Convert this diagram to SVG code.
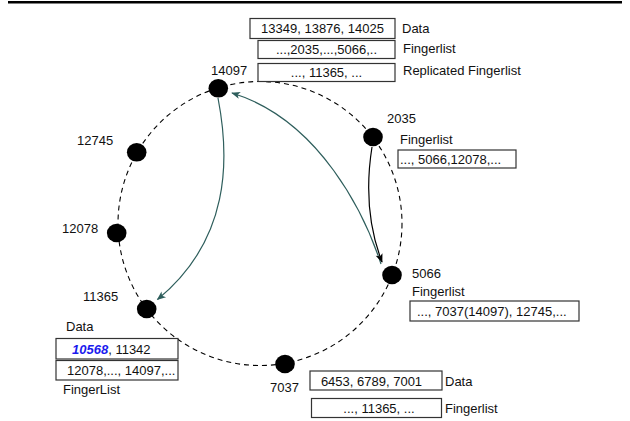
<svg xmlns="http://www.w3.org/2000/svg" width="630" height="421" viewBox="0 0 630 421">
  <style>
    text { font-family: "Liberation Sans", Arial, sans-serif; font-size: 13px; fill: #111; }
    .mid { text-anchor: middle; }
    .box { fill: #fff; stroke: #333; stroke-width: 1.2; }
    .node { fill: #000; }
    .ring { fill: none; stroke: #000; stroke-width: 1.1; stroke-dasharray: 5 4; }
    .teal { fill: none; stroke: #2e5e5c; stroke-width: 1.2; }
    .dark { fill: none; stroke: #000; stroke-width: 1.2; }
    .hit { fill: #1a1aee; font-weight: bold; font-style: italic; }
  </style>
  <defs>
    <marker id="arrTeal" viewBox="0 0 10 10" refX="9" refY="5" markerWidth="10" markerHeight="9" markerUnits="userSpaceOnUse" orient="auto">
      <path d="M0,1 L10,5 L0,9 L2.5,5 Z" fill="#2e5e5c"/>
    </marker>
    <marker id="arrDark" viewBox="0 0 10 10" refX="9" refY="5" markerWidth="10" markerHeight="9" markerUnits="userSpaceOnUse" orient="auto">
      <path d="M0,1 L10,5 L0,9 L2.5,5 Z" fill="#000"/>
    </marker>
  </defs>

  <rect x="8" y="1" width="614" height="2.5" fill="#000"/>

  <!-- identifier ring -->
  <circle class="ring" cx="260" cy="223.5" r="142"/>

  <g id="connectors">
    <path class="teal" d="M218,98 C230,160 230,240 157.5,299.5" marker-end="url(#arrTeal)"/>
    <path class="teal" d="M381,264 C365,215 320,120 232,93" marker-end="url(#arrTeal)"/>
    <path class="dark" d="M372,147 Q362,210 382,262" marker-end="url(#arrDark)"/>
  </g>

  <g id="n14097">
    <ellipse class="node" cx="218.3" cy="88.3" rx="9.8" ry="9.3"/>
    <text x="211" y="75">14097</text>
    <rect class="box" x="250" y="18.5" width="145" height="20"/>
    <text class="mid" x="322.5" y="33">13349, 13876, 14025</text>
    <text x="402" y="33">Data</text>
    <rect class="box" x="258" y="40.5" width="137" height="18"/>
    <text class="mid" x="326.5" y="54">...,2035,...,5066,..</text>
    <text x="403" y="53">Fingerlist</text>
    <rect class="box" x="258" y="63.5" width="137" height="18"/>
    <text class="mid" x="326.5" y="77">..., 11365, ...</text>
    <text x="403" y="75">Replicated Fingerlist</text>
  </g>

  <g id="n2035">
    <ellipse class="node" cx="373" cy="137" rx="9.8" ry="9.3"/>
    <text x="387" y="123">2035</text>
    <text x="400" y="144">Fingerlist</text>
    <rect class="box" x="398" y="150" width="118" height="18"/>
    <text x="400" y="164">..., 5066,12078,...</text>
  </g>

  <g id="n5066">
    <ellipse class="node" cx="392" cy="275" rx="9.8" ry="9.3"/>
    <text x="412" y="278">5066</text>
    <text x="412" y="296">Fingerlist</text>
    <rect class="box" x="410" y="301" width="169" height="20"/>
    <text x="417" y="316">..., 7037(14097), 12745,...</text>
  </g>

  <g id="n7037">
    <ellipse class="node" cx="285" cy="364" rx="9.8" ry="9.3"/>
    <text x="270" y="392">7037</text>
    <rect class="box" x="310" y="371" width="132" height="19"/>
    <text class="mid" x="371.5" y="386">6453, 6789, 7001</text>
    <text x="445" y="386">Data</text>
    <rect class="box" x="311.5" y="398.5" width="130" height="19"/>
    <text class="mid" x="379" y="413">..., 11365, ...</text>
    <text x="445" y="413">Fingerlist</text>
  </g>

  <g id="n11365">
    <ellipse class="node" cx="146.7" cy="309" rx="9.8" ry="9.3"/>
    <text x="83" y="301">11365</text>
    <text x="66" y="331">Data</text>
    <rect class="box" x="56" y="338.5" width="122" height="20.5"/>
    <text x="72" y="354"><tspan class="hit">10568</tspan>, 11342</text>
    <rect class="box" x="56" y="360.5" width="122" height="19.5"/>
    <text x="67" y="375">12078,..., 14097,...</text>
    <text x="63" y="394">FingerList</text>
  </g>

  <g id="n12078">
    <ellipse class="node" cx="116.7" cy="233" rx="9.8" ry="9.3"/>
    <text x="62" y="233">12078</text>
  </g>

  <g id="n12745">
    <ellipse class="node" cx="136.7" cy="152.3" rx="9.8" ry="9.3"/>
    <text x="77" y="145">12745</text>
  </g>
</svg>
